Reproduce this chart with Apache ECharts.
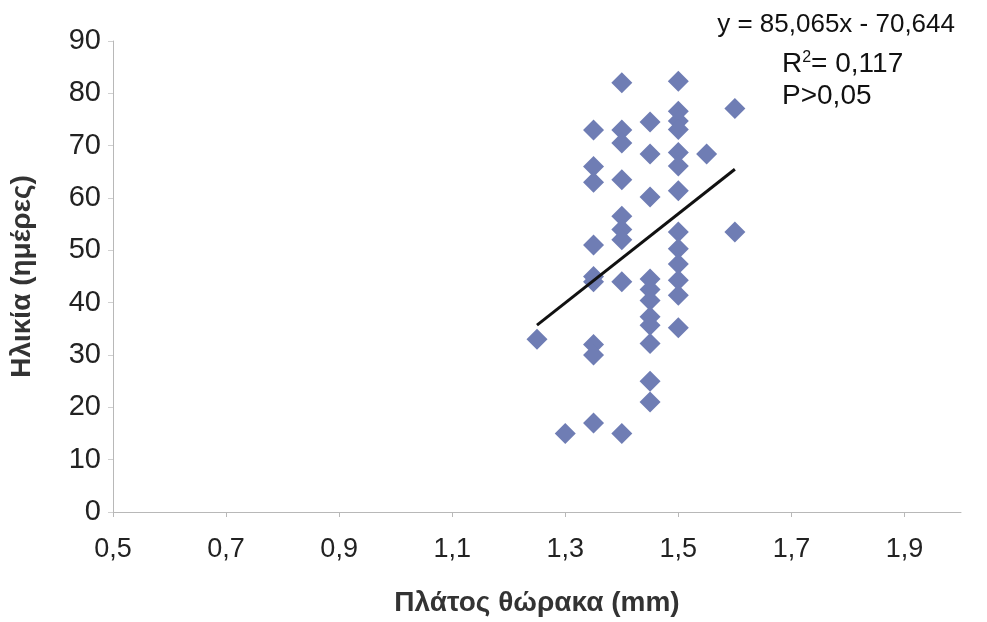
<!DOCTYPE html>
<html>
<head>
<meta charset="utf-8">
<script src="https://cdn.jsdelivr.net/npm/echarts@6/dist/echarts.min.js"></script>
<style>
html,body{margin:0;padding:0;background:#fff;}
#chart{width:987px;height:622px;}
</style>
</head>
<body>
<div id="chart"></div>
<script>
// Width of thorax (mm) and age (days)
const xValues = [
  1.25,
  1.3,
  1.35, 1.35, 1.35, 1.35, 1.35, 1.35, 1.35, 1.35, 1.35,
  1.4, 1.4, 1.4, 1.4, 1.4, 1.4, 1.4, 1.4, 1.4,
  1.45, 1.45, 1.45, 1.45, 1.45, 1.45, 1.45, 1.45, 1.45, 1.45, 1.45,
  1.5, 1.5, 1.5, 1.5, 1.5, 1.5, 1.5, 1.5, 1.5, 1.5, 1.5, 1.5, 1.5,
  1.55,
  1.6, 1.6
];
const yValues = [
  33,
  15,
  73, 66, 63, 51, 45, 44, 32, 30, 17,
  82, 73, 70.5, 63.5, 56.5, 54, 52, 44, 15,
  74.5, 68.4, 60.2, 44.5, 42.5, 40.4, 37.3, 35.7, 32.2, 25, 21,
  82.3, 76.6, 74.7, 73.1, 68.7, 66.1, 61.4, 53.5, 50.3, 47.4, 44.3, 41.4, 35.2,
  68.4,
  77.1, 53.5
];
// Trend line end points as drawn
const trendX = [1.25, 1.6];
const trendY = [35.7, 65.5];
const xTicks = [0.5, 0.7, 0.9, 1.1, 1.3, 1.5, 1.7, 1.9];
const equationText = 'y = 85,065x - 70,644';
const r2Text = '0,117';
const pText = 'P>0,05';
const xTitle = 'Πλάτος θώρακα (mm)';
const yTitle = 'Ηλικία (ημέρες)';

const points = xValues.map((x, i) => [x, yValues[i]]);
const trend = trendX.map((x, i) => [x, trendY[i]]);
const fmt = v => String(Math.round(v * 10) / 10).replace('.', ',');

const chart = echarts.init(document.getElementById('chart'), null, {renderer: 'canvas'});
const font = 'Liberation Sans, Arial, sans-serif';
chart.setOption({
  animation: false,
  backgroundColor: '#ffffff',
  textStyle: {fontFamily: font},
  grid: {left: 113, right: 26, top: 41, bottom: 108, containLabel: false},
  graphic: [
    {type: 'text', right: 32, top: 12, style: {text: equationText, font: '26px ' + font, fill: '#111'}},
    {type: 'text', left: 782, top: 50, style: {
      text: '{a|R}{s|2}{a|= ' + r2Text + '}',
      rich: {
        a: {font: '28px ' + font, fill: '#111', color: '#111'},
        s: {font: '16px ' + font, fill: '#111', color: '#111', verticalAlign: 'top', padding: [0, 0, 13, 0]}
      }
    }},
    {type: 'text', left: 782, top: 82, style: {text: pText, font: '28px ' + font, fill: '#111'}}
  ],
  xAxis: {
    type: 'value',
    min: 0.5, max: 2.0,
    name: xTitle,
    nameLocation: 'middle',
    nameGap: 77,
    nameTextStyle: {fontFamily: font, fontSize: 28, fontWeight: 'bold', color: '#333'},
    splitLine: {show: false},
    axisLine: {show: true, lineStyle: {color: '#b8b8b8', width: 1}},
    axisTick: {show: true, length: 5, lineStyle: {color: '#b8b8b8'}, customValues: xTicks},
    axisLabel: {customValues: xTicks, formatter: fmt, fontSize: 27, color: '#222', margin: 24, fontFamily: font}
  },
  yAxis: {
    type: 'value',
    min: 0, max: 90, interval: 10,
    name: yTitle,
    nameLocation: 'middle',
    nameGap: 77,
    nameRotate: 90,
    nameTextStyle: {fontFamily: font, fontSize: 28, fontWeight: 'bold', color: '#333', padding: [0, 0, 0, 0]},
    splitLine: {show: false},
    axisLine: {show: true, lineStyle: {color: '#b8b8b8', width: 1}},
    axisTick: {show: true, length: 5, lineStyle: {color: '#d0d0d0'}},
    axisLabel: {fontSize: 29, color: '#222', margin: 12, fontFamily: font}
  },
  series: [
    {
      type: 'scatter',
      data: points,
      symbol: 'diamond',
      symbolSize: 21,
      itemStyle: {color: '#6f7db4', opacity: 1},
      z: 2
    },
    {
      type: 'line',
      data: trend,
      symbol: 'none',
      lineStyle: {color: '#111', width: 3},
      z: 3
    }
  ]
});
</script>
</body>
</html>
